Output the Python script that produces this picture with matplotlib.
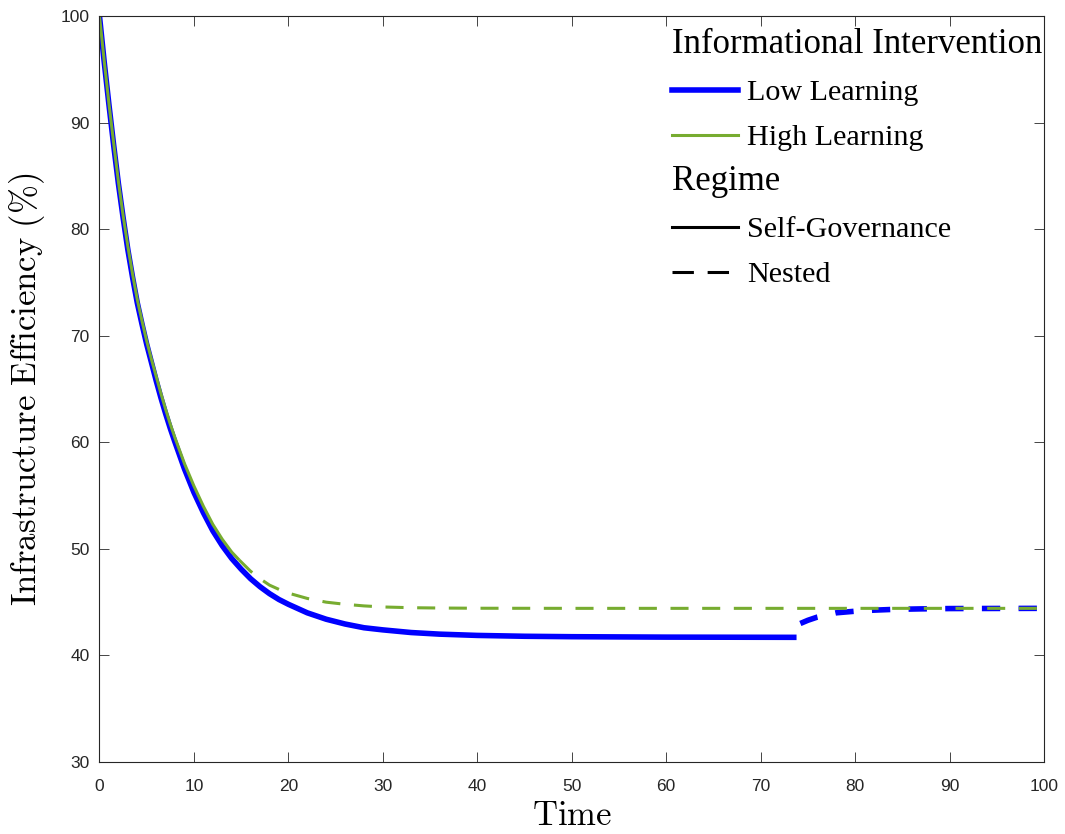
import matplotlib
matplotlib.use("Agg")
import matplotlib.pyplot as plt
from matplotlib.lines import Line2D

plt.rcParams['mathtext.fontset'] = 'cm'
plt.rcParams['font.family'] = ['Liberation Sans', 'DejaVu Sans']

# ── Series ───────────────────────────────────────────────────────────────
low_self_t = [0, 0.5, 1, 1.5, 2, 2.5, 3, 3.5, 4, 4.5, 5, 5.5, 6, 6.5, 7, 7.5, 8,
              9, 10, 11, 12, 13, 14, 15, 16, 17, 18, 19, 20, 22, 24, 26, 28, 30,
              33, 36, 40, 45, 50, 60, 73.8]
low_self_v = [100, 95.7, 91.7, 87.9, 84.3, 81.1, 78.1, 75.5, 73.1, 71.1, 69.2,
              67.5, 65.8, 64.2, 62.7, 61.3, 60.0, 57.5, 55.3, 53.4, 51.7, 50.3,
              49.1, 48.1, 47.2, 46.45, 45.8, 45.25, 44.8, 44.0, 43.4, 42.95, 42.6,
              42.4, 42.15, 42.0, 41.88, 41.8, 41.76, 41.72, 41.7]

low_nest_t = [74.2, 75, 76, 77, 78, 80, 82, 84, 87, 90, 100]
low_nest_v = [43.0, 43.3, 43.6, 43.8, 44.0, 44.15, 44.25, 44.32, 44.37, 44.4, 44.42]

high_self_t = [0, 0.5, 1, 1.5, 2, 2.5, 3, 3.5, 4, 4.5, 5, 5.5, 6, 6.5, 7, 7.5, 8,
               9, 10, 11, 12, 13, 14, 14.8]
high_self_v = [100, 95.8, 91.8, 88.1, 84.5, 81.3, 78.4, 75.8, 73.4, 71.4, 69.5,
               67.8, 66.2, 64.6, 63.1, 61.7, 60.4, 58.0, 55.9, 54.0, 52.3, 50.9,
               49.7, 48.95]

high_nest_t = [14.8, 16, 17, 18, 19, 20, 22, 24, 26, 28, 30, 33, 36, 40, 50, 100]
high_nest_v = [48.95, 47.9, 47.2, 46.6, 46.2, 45.85, 45.35, 45.0, 44.8, 44.65,
               44.55, 44.48, 44.45, 44.43, 44.42, 44.42]

x_ticks = list(range(0, 101, 10))
y_ticks = list(range(30, 101, 10))

BLUE = '#0000FF'
GREEN = '#77AC30'
LW_LOW = 4.0
LW_HIGH = 2.2

fig = plt.figure(figsize=(10.65, 8.34), dpi=100)
ax = fig.add_axes([0.0934, 0.0863, 0.8869, 0.8945])

# low learning first, high learning drawn over it
ax.plot(low_self_t, low_self_v, color=BLUE, lw=LW_LOW, solid_capstyle='butt',
        solid_joinstyle='round')
ax.plot(low_nest_t, low_nest_v, color=BLUE, lw=LW_LOW,
        dashes=(13.2 / LW_LOW, 13.2 / LW_LOW))
ax.plot(high_self_t, high_self_v, color=GREEN, lw=LW_HIGH, solid_capstyle='butt',
        solid_joinstyle='round')
ax.plot(high_nest_t, high_nest_v, color=GREEN, lw=LW_HIGH,
        dashes=(13.0 / LW_HIGH, 9.8 / LW_HIGH))

ax.set_xlim(0, 100)
ax.set_ylim(30, 100)
ax.set_xticks(x_ticks)
ax.set_yticks(y_ticks)
ax.tick_params(direction='in', length=7, width=0.6, top=True, right=True,
               labelsize=12.5, colors='#262626')
ax.tick_params(axis='x', pad=12)
ax.tick_params(axis='y', pad=7)
for sp in ax.spines.values():
    sp.set_color('#262626')
    sp.set_linewidth(0.8)

ax.set_xlabel(r'$\mathrm{Time}$', fontsize=25, labelpad=4)
ax.set_ylabel(r'$\mathrm{Infrastructure\ Efficiency\ (\%)}$', fontsize=25,
              labelpad=10)

# ── Legends ──────────────────────────────────────────────────────────────
entry_font = {'family': 'Liberation Serif', 'size': 21.7}
title_font = {'family': 'Liberation Serif', 'size': 25}
leg_kw = dict(frameon=False, prop=entry_font, title_fontproperties=title_font,
              alignment='left', loc='upper left', borderpad=0, borderaxespad=0,
              handlelength=2.2, handletextpad=0.3, labelspacing=0.6,
              bbox_transform=fig.transFigure)

info_handles = [Line2D([], [], color=BLUE, lw=LW_LOW),
                Line2D([], [], color=GREEN, lw=LW_HIGH)]
leg1 = ax.legend(info_handles, ['Low Learning', 'High Learning'],
                 title='Informational Intervention',
                 bbox_to_anchor=(672 / 1065, 1 - 28 / 834), **leg_kw)
ax.add_artist(leg1)

regime_handles = [Line2D([], [], color='black', lw=2.2),
                  Line2D([], [], color='black', lw=2.2, dashes=(7, 4.5))]
ax.legend(regime_handles, ['Self-Governance', 'Nested'], title='Regime',
          bbox_to_anchor=(672 / 1065, 1 - 165 / 834), **leg_kw)

fig.savefig('out.png', dpi=100)
